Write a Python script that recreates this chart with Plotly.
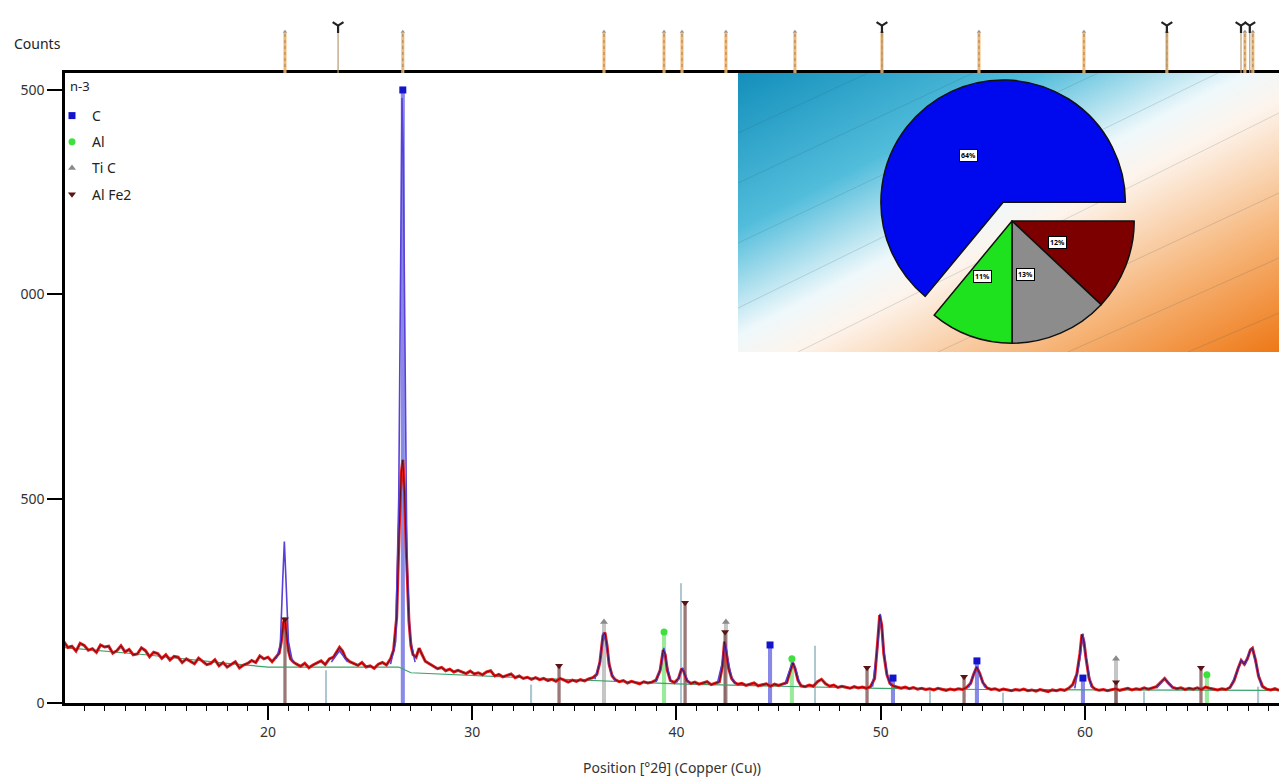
import base64
import math
import plotly.graph_objects as go

# ---------------- data ----------------
# observed scan: (position °2θ, counts)
observed = [
    (10.0, 150), (10.2, 136), (10.4, 139), (10.6, 127), (10.8, 146), (11.0, 141), (11.2, 129), (11.4, 133),
    (11.6, 124), (11.8, 142), (12.0, 137), (12.2, 139), (12.4, 122), (12.6, 128), (12.8, 140), (13.0, 125),
    (13.2, 131), (13.4, 118), (13.6, 120), (13.8, 135), (14.0, 128), (14.2, 113), (14.4, 124), (14.6, 121),
    (14.8, 109), (15.0, 118), (15.2, 105), (15.4, 114), (15.6, 112), (15.8, 99), (16.0, 108), (16.2, 103),
    (16.4, 96), (16.6, 110), (16.8, 101), (17.0, 94), (17.2, 97), (17.4, 106), (17.6, 91), (17.8, 99),
    (18.0, 88), (18.2, 94), (18.4, 101), (18.6, 86), (18.8, 93), (19.0, 97), (19.2, 104), (19.4, 99),
    (19.6, 115), (19.8, 108), (20.0, 112), (20.2, 101), (20.4, 114), (20.55, 122), (20.65, 150), (20.75, 195),
    (20.82, 208), (20.9, 170), (21.0, 128), (21.1, 108), (21.25, 100), (21.4, 95), (21.6, 90), (21.8, 97),
    (22.0, 86), (22.2, 93), (22.4, 99), (22.6, 103), (22.8, 94), (23.0, 108), (23.2, 112), (23.35, 124),
    (23.5, 136), (23.65, 127), (23.8, 110), (24.0, 101), (24.2, 96), (24.4, 92), (24.6, 99), (24.8, 88),
    (25.0, 91), (25.2, 85), (25.4, 95), (25.6, 99), (25.8, 93), (26.0, 108), (26.15, 130), (26.3, 210),
    (26.42, 420), (26.52, 560), (26.6, 595), (26.68, 520), (26.78, 360), (26.9, 200), (27.0, 140), (27.1, 118),
    (27.25, 112), (27.4, 134), (27.55, 118), (27.7, 102), (27.9, 96), (28.1, 90), (28.3, 84), (28.5, 87),
    (28.7, 79), (28.9, 83), (29.1, 76), (29.3, 80), (29.5, 75), (29.7, 72), (29.9, 78), (30.1, 71),
    (30.3, 74), (30.5, 69), (30.7, 76), (30.9, 79), (31.1, 66), (31.3, 70), (31.5, 64), (31.7, 68),
    (31.9, 71), (32.1, 62), (32.3, 66), (32.5, 60), (32.7, 63), (32.9, 58), (33.1, 62), (33.3, 57),
    (33.5, 60), (33.7, 55), (33.9, 58), (34.1, 53), (34.3, 60), (34.5, 56), (34.7, 51), (34.9, 56),
    (35.1, 53), (35.3, 57), (35.5, 54), (35.7, 59), (35.9, 62), (36.1, 70), (36.25, 100), (36.4, 165),
    (36.5, 172), (36.6, 140), (36.7, 95), (36.85, 66), (37.0, 57), (37.2, 52), (37.4, 55), (37.6, 49),
    (37.8, 53), (38.0, 50), (38.2, 47), (38.4, 52), (38.6, 49), (38.8, 51), (39.0, 56), (39.2, 80),
    (39.35, 130), (39.45, 118), (39.55, 80), (39.7, 55), (39.9, 50), (40.1, 60), (40.25, 84), (40.35, 78),
    (40.5, 55), (40.7, 48), (40.9, 51), (41.1, 46), (41.3, 49), (41.5, 52), (41.7, 45), (41.9, 48),
    (42.1, 52), (42.25, 90), (42.35, 150), (42.45, 120), (42.55, 85), (42.7, 60), (42.85, 50), (43.0, 46),
    (43.2, 48), (43.4, 43), (43.6, 46), (43.8, 49), (44.0, 42), (44.2, 45), (44.4, 47), (44.6, 41),
    (44.8, 46), (45.0, 43), (45.2, 46), (45.4, 50), (45.55, 75), (45.7, 98), (45.8, 85), (45.95, 55),
    (46.1, 42), (46.3, 40), (46.5, 44), (46.7, 41), (46.9, 52), (47.1, 58), (47.3, 47), (47.5, 41),
    (47.7, 44), (47.9, 38), (48.1, 41), (48.3, 39), (48.5, 36), (48.7, 40), (48.9, 37), (49.1, 39),
    (49.3, 36), (49.5, 40), (49.7, 60), (49.85, 150), (49.95, 215), (50.05, 190), (50.15, 120), (50.3, 70),
    (50.45, 48), (50.6, 42), (50.8, 39), (51.0, 36), (51.2, 39), (51.4, 35), (51.6, 38), (51.8, 34),
    (52.0, 36), (52.2, 33), (52.4, 35), (52.6, 32), (52.8, 36), (53.0, 33), (53.2, 31), (53.4, 34),
    (53.6, 32), (53.8, 35), (54.0, 33), (54.2, 38), (54.4, 48), (54.55, 70), (54.7, 88), (54.85, 72),
    (55.0, 50), (55.2, 37), (55.4, 33), (55.6, 35), (55.8, 31), (56.0, 34), (56.2, 32), (56.4, 30),
    (56.6, 33), (56.8, 31), (57.0, 34), (57.2, 30), (57.4, 32), (57.6, 29), (57.8, 33), (58.0, 31),
    (58.2, 28), (58.4, 32), (58.6, 30), (58.8, 33), (59.0, 31), (59.2, 36), (59.4, 45), (59.6, 70),
    (59.75, 120), (59.85, 168), (59.95, 150), (60.05, 110), (60.2, 60), (60.35, 40), (60.5, 34), (60.7, 31),
    (60.9, 33), (61.1, 30), (61.3, 32), (61.5, 35), (61.7, 31), (61.9, 34), (62.1, 36), (62.3, 32),
    (62.5, 35), (62.7, 33), (62.9, 37), (63.1, 34), (63.3, 37), (63.5, 40), (63.7, 50), (63.9, 60),
    (64.1, 48), (64.3, 38), (64.5, 35), (64.7, 37), (64.9, 33), (65.1, 36), (65.3, 34), (65.5, 37),
    (65.7, 33), (65.9, 39), (66.1, 36), (66.3, 34), (66.5, 32), (66.7, 35), (66.9, 33), (67.1, 38),
    (67.3, 55), (67.5, 85), (67.65, 104), (67.8, 95), (67.95, 108), (68.1, 130), (68.2, 134), (68.35, 105),
    (68.5, 65), (68.7, 40), (68.9, 34), (69.1, 32), (69.3, 35), (69.5, 31),
]

# fitted background
background_x = [10, 14, 18, 20, 26.4, 27.0, 32, 36, 40, 45, 50, 55, 60, 65, 69.5]
background_y = [136, 118, 97, 88, 88, 74, 63, 55, 47, 41, 36, 33, 32, 32, 31]

# fitted peak profile segments
profile_segments = [
    [(20.4, 108), (20.6, 140), (20.72, 300), (20.8, 395), (20.88, 300), (21.0, 150), (21.2, 100)],
    [(23.1, 100), (23.5, 128), (23.9, 100)],
    [(26.0, 95), (26.25, 150), (26.4, 500), (26.5, 1200), (26.56, 1480), (26.62, 1350), (26.7, 800),
     (26.8, 350), (26.95, 160), (27.2, 100)],
    [(36.0, 58), (36.25, 100), (36.42, 172), (36.55, 150), (36.75, 80), (37.0, 55)],
    [(39.0, 52), (39.25, 90), (39.38, 135), (39.5, 100), (39.7, 55)],
    [(40.0, 50), (40.2, 75), (40.3, 86), (40.45, 65), (40.6, 50)],
    [(42.0, 48), (42.25, 100), (42.38, 150), (42.5, 110), (42.7, 60), (42.9, 48)],
    [(45.3, 45), (45.55, 80), (45.68, 100), (45.85, 80), (46.05, 45)],
    [(49.6, 40), (49.85, 140), (49.97, 218), (50.1, 150), (50.3, 70), (50.5, 42)],
    [(54.3, 38), (54.55, 70), (54.7, 90), (54.85, 70), (55.1, 38)],
    [(59.5, 36), (59.75, 110), (59.9, 170), (60.05, 110), (60.3, 40)],
    [(63.5, 36), (63.9, 60), (64.3, 36)],
    [(67.1, 36), (67.4, 70), (67.65, 105), (67.85, 95), (68.05, 125), (68.2, 135), (68.4, 90), (68.65, 40)],
]

# reference patterns (stick positions / heights)
c_pos = [26.6, 44.58, 50.6, 54.71, 59.9]
c_int = [1500, 142, 61, 103, 61]
al_pos = [39.39, 45.65, 65.97]
al_int = [174, 108, 69]
tic_pos = [36.45, 42.42, 61.52]
tic_int = [198, 198, 108]
alfe2_pos = [20.83, 34.25, 40.42, 42.38, 49.33, 54.08, 61.52, 65.68]
alfe2_int = [205, 91, 245, 174, 86, 64, 51, 86]
other_pos = [22.85, 32.9, 40.22, 46.8, 52.4, 56.0, 62.9, 68.5]
other_int = [80, 45, 293, 140, 30, 25, 28, 40]

# top strip markers
strip_orange = [20.83, 26.6, 36.45, 39.39, 40.27, 42.42, 45.8, 50.06, 54.81, 59.95, 64.01, 67.83, 68.22]
strip_black = [23.43, 50.06, 64.01, 67.64, 68.07]

# phase fraction pie (clockwise from 3 o'clock)
pie_phases = ["Al Fe2", "Ti C", "Al", "C"]
pie_values = [12, 13, 11, 64]
pie_colors = ["#7d0000", "#8c8c8c", "#1fe21f", "#0008ee"]
pie_pull = [0, 0, 0, 0.17]

y_tickvals = [0, 500, 1000, 1500]
y_ticktext = ["0", "500", "000", "500"]

# ---------------- layout geometry ----------------
W, H = 1279, 778
ML, MR, MT, MB = 65, 0, 10, 75
PW, PH = W - ML - MR, H - MT - MB


def pxx(px):
    return (px - ML) / PW


def pxy(py):
    return (H - MB - py) / PH


FONT = "Noto Sans, Open Sans, sans-serif"
fig = go.Figure()


def sticks(pos, inten, color, width, opacity):
    fig.add_trace(go.Bar(x=pos, y=inten, width=width, marker=dict(color=color, line=dict(width=0)),
                         opacity=opacity, showlegend=False, hoverinfo="skip"))


sticks(other_pos, other_int, "#9ab8c4", 0.06, 0.8)
sticks(c_pos, c_int, "#3a3ad8", 0.2, 0.6)
sticks(al_pos, al_int, "#55dd55", 0.2, 0.6)
sticks(tic_pos, tic_int, "#a0a0a0", 0.2, 0.6)
sticks(alfe2_pos, alfe2_int, "#7a4a4a", 0.16, 0.75)

# background
fig.add_trace(go.Scatter(x=background_x, y=background_y, mode="lines",
                         line=dict(color="#3aa36a", width=1.2), showlegend=False, hoverinfo="skip"))

obs_x = [p[0] for p in observed]
obs_y = [p[1] for p in observed]
fig.add_trace(go.Scatter(x=obs_x, y=obs_y, mode="lines", line=dict(color="#e81b1b", width=3),
                         showlegend=False, hoverinfo="skip"))

prof_x, prof_y = [], []
for seg in profile_segments:
    prof_x += [p[0] for p in seg] + [None]
    prof_y += [p[1] for p in seg] + [None]
fig.add_trace(go.Scatter(x=prof_x, y=prof_y, mode="lines", line=dict(color="#5a40d8", width=1.6),
                         showlegend=False, hoverinfo="skip"))

fig.add_trace(go.Scatter(x=obs_x, y=obs_y, mode="lines", line=dict(color="#3a0c1c", width=0.8),
                         showlegend=False, hoverinfo="skip"))

# phase markers (legend)
for name, pos, inten, sym, col in [
    ("C", c_pos, c_int, "square", "#1414cc"),
    ("Al", al_pos, al_int, "circle", "#3ee03e"),
    ("Ti C", tic_pos, tic_int, "triangle-up", "#8a8a8a"),
    ("Al Fe2", alfe2_pos, alfe2_int, "triangle-down", "#5a1414"),
]:
    fig.add_trace(go.Scatter(x=pos, y=inten, mode="markers", name=name, legendgroup=name,
                             marker=dict(symbol=sym, size=7, color=col), hoverinfo="skip"))

# top strip (second y axis above the plot)
ox, oy = [], []
for p in strip_orange:
    ox += [p, p, None]
    oy += [0, 0.73, None]
fig.add_trace(go.Scatter(x=ox, y=oy, xaxis="x", yaxis="y2", mode="lines",
                         line=dict(color="#f6b56a", width=3), showlegend=False, hoverinfo="skip"))
fig.add_trace(go.Scatter(x=ox, y=oy, xaxis="x", yaxis="y2", mode="lines",
                         line=dict(color="#9a8a70", width=1, dash="dot"), showlegend=False, hoverinfo="skip"))
fig.add_trace(go.Scatter(x=strip_orange, y=[0.75] * len(strip_orange), xaxis="x", yaxis="y2", mode="markers",
                         marker=dict(symbol="triangle-up", size=4, color="#a09080"), showlegend=False,
                         hoverinfo="skip"))
bx, by = [], []
for p in strip_black:
    bx += [p, p, None]
    by += [0, 0.85, None]
fig.add_trace(go.Scatter(x=bx, y=by, xaxis="x", yaxis="y2", mode="lines",
                         line=dict(color="#b89a70", width=1.2), showlegend=False, hoverinfo="skip"))
fig.add_trace(go.Scatter(x=strip_black, y=[0.86] * len(strip_black), xaxis="x", yaxis="y2", mode="markers",
                         marker=dict(symbol="y-down", size=9, line=dict(color="#222222", width=2.2)),
                         showlegend=False, hoverinfo="skip"))

# pie inset
pie_x0, pie_x1, pie_y0, pie_y1 = 869, 1155, 78, 364
fig.add_trace(go.Pie(labels=pie_phases, values=pie_values, sort=False, direction="clockwise", rotation=90,
                     pull=pie_pull, marker=dict(colors=pie_colors, line=dict(color="#111111", width=1.5)),
                     textinfo="none", hoverinfo="skip", showlegend=False,
                     domain=dict(x=[pxx(pie_x0), pxx(pie_x1)], y=[pxy(pie_y1), pxy(pie_y0)])))

# pie percentage labels computed from values
cx, cy = (pie_x0 + pie_x1) / 2, (pie_y0 + pie_y1) / 2
r = min(pie_x1 - pie_x0, pie_y1 - pie_y0) / (2 * (1 + max(pie_pull)))
total = sum(pie_values)
ang = 0.0
annotations = []
for v, pl in zip(pie_values, pie_pull):
    span = v / total * 360
    mid = math.radians(ang - span / 2)
    ang -= span
    d = 0.48 * r + pl * r
    lx, ly = cx + d * math.cos(mid), cy - d * math.sin(mid)
    annotations.append(dict(x=pxx(lx), y=pxy(ly), xref="paper", yref="paper", showarrow=False,
                            text="<b>%d%%</b>" % round(v / total * 100), font=dict(size=7, color="black", family=FONT),
                            bgcolor="white", bordercolor="black", borderwidth=1, borderpad=1))

annotations.append(dict(x=pxx(12), y=pxy(43), xref="paper", yref="paper", xanchor="left", yanchor="middle",
                        showarrow=False, text="Counts", font=dict(size=14, color="#222222", family=FONT)))
annotations.append(dict(x=pxx(68), y=pxy(86), xref="paper", yref="paper", xanchor="left", yanchor="middle",
                        showarrow=False, text="n-3", font=dict(size=13, color="#222222", family=FONT)))

# gradient background for the inset
gw, gh = 541, 279
streaks = [(0, 60, 130, 0), (0, 110, 235, 0), (0, 170, 360, 0), (0, 235, 480, 0), (60, 279, 541, 40),
           (200, 279, 541, 120), (330, 279, 541, 185), (450, 279, 541, 240)]
lines_svg = "".join('<line x1="%d" y1="%d" x2="%d" y2="%d"/>' % s for s in streaks)
svg = ('<svg xmlns="http://www.w3.org/2000/svg" width="%d" height="%d" viewBox="0 0 %d %d" preserveAspectRatio="none">'
       '<defs><linearGradient id="g" x1="0" y1="0" x2="1" y2="1">'
       '<stop offset="0" stop-color="#138fbb"/><stop offset="0.28" stop-color="#52bddb"/>'
       '<stop offset="0.47" stop-color="#eef8fb"/><stop offset="0.55" stop-color="#fdf4ec"/>'
       '<stop offset="0.78" stop-color="#f6b477"/><stop offset="1" stop-color="#ee7816"/>'
       '</linearGradient></defs><rect width="%d" height="%d" fill="url(#g)"/>'
       '<g stroke="#30586a" stroke-opacity="0.18" stroke-width="1">%s</g></svg>') % (gw, gh, gw, gh, gw, gh, lines_svg)
svg_uri = "data:image/svg+xml;base64," + base64.b64encode(svg.encode()).decode()

fig.update_layout(
    width=W, height=H,
    margin=dict(l=ML, r=MR, t=MT, b=MB),
    paper_bgcolor="white", plot_bgcolor="white",
    barmode="overlay",
    font=dict(family=FONT, color="#333333"),
    annotations=annotations,
    images=[dict(source=svg_uri, xref="paper", yref="paper", x=pxx(738), y=pxy(73),
                 sizex=pxx(1279) - pxx(738), sizey=pxy(73) - pxy(352), sizing="stretch",
                 xanchor="left", yanchor="top", layer="below")],
    legend=dict(x=pxx(52), y=pxy(100), xanchor="left", yanchor="top", bgcolor="rgba(0,0,0,0)",
                font=dict(size=14, color="#222222", family=FONT), tracegroupgap=5, itemwidth=30),
    xaxis=dict(range=[10.06, 69.5], showline=True, linecolor="black", linewidth=2.5, mirror=True,
               ticks="outside", tick0=0, dtick=10, ticklen=14, tickwidth=1.5, tickcolor="black",
               minor=dict(dtick=1, ticks="outside", ticklen=5, tickwidth=1, tickcolor="black"),
               showgrid=False, zeroline=False, automargin=False,
               tickfont=dict(size=14, color="#333333", family=FONT),
               title=dict(text="Position [°2θ] (Copper (Cu))", font=dict(size=14, color="#333333", family=FONT),
                          standoff=24)),
    yaxis=dict(domain=[0, pxy(73)], range=[0, 1541.5], showline=True, linecolor="black", linewidth=2.5,
               ticks="outside", tickvals=y_tickvals, ticktext=y_ticktext, ticklen=15, tickwidth=1.5,
               tickcolor="black", showgrid=False, zeroline=False, automargin=False,
               tickfont=dict(size=14, color="#333333", family=FONT)),
    yaxis2=dict(domain=[pxy(73), pxy(18)], range=[0, 1], visible=False, anchor="x"),
)

fig.write_html("out.html", config={"displayModeBar": False},
               post_script="document.body.style.margin='0';document.body.style.overflow='hidden';")
